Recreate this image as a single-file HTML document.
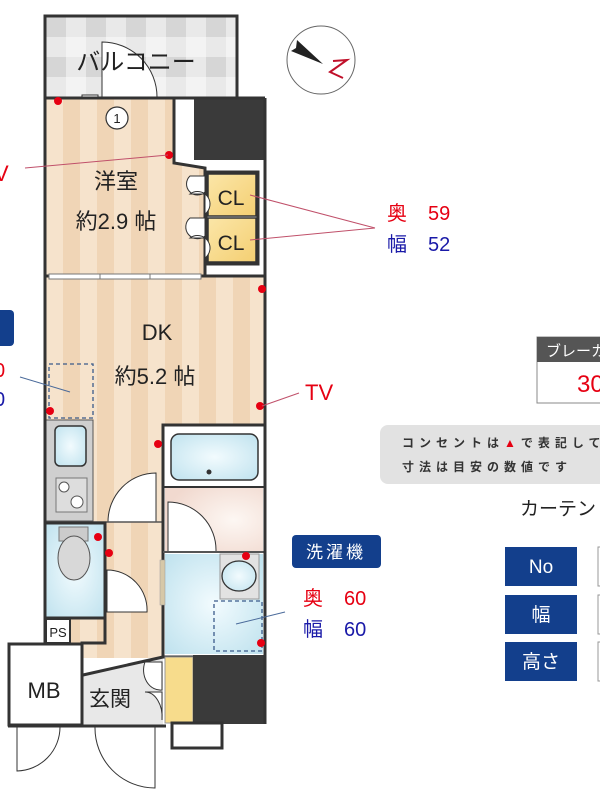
<!DOCTYPE html>
<html><head><meta charset="utf-8"><style>
html,body{margin:0;padding:0;background:#fff;width:600px;height:800px;overflow:hidden}
text{font-family:"Liberation Sans","Noto Sans CJK JP",sans-serif}
</style></head><body>
<svg width="600" height="800" viewBox="0 0 600 800" xmlns="http://www.w3.org/2000/svg">
<defs>
<pattern id="wood" x="46" y="0" width="34" height="10" patternUnits="userSpaceOnUse">
<rect width="34" height="10" fill="#f6e3cc"/><rect x="17" width="17" height="10" fill="#f0d5b6"/>
</pattern>
<pattern id="tile" x="46" y="17" width="40" height="40" patternUnits="userSpaceOnUse">
<rect width="40" height="40" fill="#e9e9e9"/><rect width="20" height="20" fill="#d6d6d6"/><rect x="20" y="20" width="20" height="20" fill="#f3f3f3"/>
</pattern>
<radialGradient id="blue" cx="0.5" cy="0.5" r="0.7"><stop offset="0" stop-color="#f2fbfe"/><stop offset="1" stop-color="#bfe2ee"/></radialGradient>
<radialGradient id="pink" cx="0.7" cy="0.5" r="0.7"><stop offset="0" stop-color="#fdf7f3"/><stop offset="1" stop-color="#f1d9cf"/></radialGradient>
<linearGradient id="cl" x1="0" y1="0" x2="1" y2="1"><stop offset="0" stop-color="#fbe6a8"/><stop offset="1" stop-color="#f4cf72"/></linearGradient>
</defs>

<!-- balcony -->
<rect x="45" y="16" width="192" height="82" fill="url(#tile)" stroke="#333" stroke-width="3"/>
<path d="M102,97 L102,42 A55,55 0 0 1 157,97" fill="#fff" stroke="#333" stroke-width="1"/>
<rect x="82" y="95" width="16" height="5" fill="#fff" stroke="#333" stroke-width="1"/>
<text x="136" y="70" font-size="24" text-anchor="middle" fill="#222">バルコニー</text>

<!-- main floor -->
<rect x="45" y="98" width="220" height="560" fill="url(#wood)"/>
<path d="M174,98 L265,98 L265,275 L205,275 L205,168 L174,163 Z" fill="#fff"/>
<rect x="194" y="98" width="71" height="62" fill="#3a3a3a"/>
<path d="M174,98 L174,163 L205,168 L205,275" fill="none" stroke="#333" stroke-width="3"/>
<rect x="206" y="172" width="52" height="92" fill="none" stroke="#333" stroke-width="3"/>
<rect x="208" y="174" width="48" height="42" fill="url(#cl)" stroke="#333" stroke-width="1.5"/>
<rect x="208" y="218" width="48" height="44" fill="url(#cl)" stroke="#333" stroke-width="1.5"/>
<text x="231" y="205" font-size="21" text-anchor="middle" fill="#222">CL</text>
<text x="231" y="250" font-size="21" text-anchor="middle" fill="#222">CL</text>
<g fill="#fff" stroke="#333" stroke-width="1">
<path d="M205,176 L190,176 A10,10 0 0 0 205,192 Z"/><path d="M205,194 L190,194 A10,10 0 0 1 205,214 Z"/>
<path d="M205,218 L190,218 A10,10 0 0 0 205,236 Z"/><path d="M205,238 L190,238 A10,10 0 0 1 205,258 Z"/>
</g>
<line x1="45" y1="276" x2="265" y2="276" stroke="#333" stroke-width="3"/>
<rect x="49" y="274" width="152" height="5" fill="#fff" stroke="#777" stroke-width="1"/>
<line x1="100" y1="274" x2="100" y2="279" stroke="#777"/><line x1="150" y1="274" x2="150" y2="279" stroke="#777"/>

<circle cx="117" cy="118" r="11" fill="#fff" stroke="#333" stroke-width="1.2"/>
<text x="117" y="123" font-size="13" text-anchor="middle" fill="#222">1</text>
<text x="116" y="189" font-size="22" text-anchor="middle" fill="#222">洋室</text>
<text x="116" y="229" font-size="22" text-anchor="middle" fill="#222">約2.9 帖</text>
<text x="157" y="340" font-size="22" text-anchor="middle" fill="#222">DK</text>
<text x="155" y="384" font-size="22" text-anchor="middle" fill="#222">約5.2 帖</text>
<rect x="49" y="364" width="44" height="54" fill="none" stroke="#3a5a8a" stroke-width="1.3" stroke-dasharray="4,3"/>

<!-- kitchen -->
<rect x="46" y="420" width="47" height="101" fill="#cfcfcf" stroke="#555" stroke-width="1"/>
<rect x="55" y="426" width="31" height="40" rx="5" fill="url(#blue)" stroke="#333" stroke-width="1.5"/>
<rect x="56" y="478" width="31" height="34" fill="#ddd" stroke="#777"/>
<circle cx="64" cy="487" r="5" fill="#fff" stroke="#555"/><circle cx="77" cy="502" r="6" fill="#fff" stroke="#555"/>
<path d="M108,522 A48,49 0 0 1 156,473 L156,522 Z" fill="#fff" stroke="#333" stroke-width="1"/>
<line x1="93" y1="522" x2="163" y2="522" stroke="#555" stroke-width="1.5"/>

<!-- bath -->
<rect x="163" y="425" width="102" height="232" fill="#fff" stroke="#333" stroke-width="3"/>
<rect x="171" y="434" width="87" height="46" rx="8" fill="url(#blue)" stroke="#333" stroke-width="1.5"/>
<circle cx="209" cy="472" r="2.5" fill="#333"/>
<rect x="165" y="488" width="98" height="64" fill="url(#pink)"/>
<line x1="163" y1="487" x2="265" y2="487" stroke="#333" stroke-width="2"/>
<path d="M168,551 L168,502 A48,48 0 0 1 216,551" fill="#fff" stroke="#333" stroke-width="1"/>
<line x1="163" y1="552" x2="265" y2="552" stroke="#555" stroke-width="2"/>
<rect x="165" y="554" width="98" height="100" fill="url(#blue)"/>
<rect x="220" y="554" width="39" height="45" fill="#e2e2e2" stroke="#999" stroke-width="1"/>
<ellipse cx="239" cy="576" rx="17" ry="15" fill="url(#blue)" stroke="#333" stroke-width="1.3"/>
<rect x="214" y="601" width="48" height="50" fill="none" stroke="#3a5a8a" stroke-width="1.3" stroke-dasharray="4,3"/>
<rect x="160" y="560" width="5" height="45" fill="#d6c8a8" stroke="#999" stroke-width="0.5"/>

<!-- toilet -->
<rect x="45" y="523" width="60" height="95" fill="url(#blue)" stroke="#333" stroke-width="3"/>
<rect x="59" y="527" width="29" height="14" fill="#ccc" stroke="#777"/>
<ellipse cx="74" cy="558" rx="16" ry="22" fill="#d8d8d8" stroke="#555"/>
<path d="M107,612 L107,570 A40,40 0 0 1 147,612 Z" fill="#fff" stroke="#333" stroke-width="1"/>

<!-- PS / entrance -->
<rect x="46" y="619" width="24" height="24" fill="#fff" stroke="#333" stroke-width="2"/>
<text x="58" y="637" font-size="13" text-anchor="middle" fill="#222">PS</text>
<path d="M83,675 L163,657 L163,725 L83,725 Z" fill="#e8e8e8"/>
<path d="M83,675 L163,657" stroke="#333" stroke-width="3"/>
<text x="110" y="706" font-size="21" text-anchor="middle" fill="#222">玄関</text>
<path d="M162,662 L145,662 A17,20 0 0 0 162,690 Z" fill="#fff" stroke="#333" stroke-width="1"/>
<path d="M162,692 L145,692 A17,25 0 0 1 162,720 Z" fill="#fff" stroke="#333" stroke-width="1"/>
<rect x="165" y="657" width="28" height="66" fill="#f7dc8c" stroke="#999" stroke-width="1"/>
<rect x="193" y="655" width="73" height="69" fill="#3a3a3a"/>
<rect x="172" y="723" width="50" height="25" fill="#fff" stroke="#333" stroke-width="3"/>

<!-- MB -->
<rect x="9" y="644" width="73" height="81" fill="#fff" stroke="#333" stroke-width="3"/>
<text x="44" y="698" font-size="22" text-anchor="middle" fill="#222">MB</text>
<path d="M17,727 L17,771 A44,44 0 0 0 60,727" fill="none" stroke="#333" stroke-width="1"/>
<path d="M155,727 L155,788 A60,60 0 0 1 95,727" fill="none" stroke="#333" stroke-width="1"/>
<line x1="8" y1="726" x2="166" y2="726" stroke="#333" stroke-width="3"/>

<path d="M45,98 L45,643 M82,726 L82,643 L105,643 L105,618 M265,98 L265,724 M45,98 L265,98" fill="none" stroke="#333" stroke-width="3"/>
<line x1="93" y1="420" x2="93" y2="521" stroke="#555"/>

<g fill="#e60012">
<circle cx="58" cy="101" r="4"/><circle cx="169" cy="155" r="4"/><circle cx="262" cy="289" r="4"/>
<circle cx="50" cy="411" r="4"/><circle cx="260" cy="406" r="4"/><circle cx="158" cy="444" r="4"/>
<circle cx="98" cy="537" r="4"/><circle cx="109" cy="553" r="4"/><circle cx="246" cy="556" r="4"/><circle cx="261" cy="643" r="4"/>
</g>

<!-- compass -->
<circle cx="321" cy="60" r="34" fill="#fff" stroke="#666" stroke-width="1"/>
<path d="M297,40 L323,64 L291,51 L296,48 Z" fill="#222"/>
<path d="M333,61 L347,60 L330,72 L343,78" fill="none" stroke="#c0102a" stroke-width="2"/>

<g stroke="#c0506a" stroke-width="1"><line x1="25" y1="168" x2="168" y2="155"/><line x1="250" y1="195" x2="375" y2="228"/><line x1="250" y1="240" x2="375" y2="228"/><line x1="262" y1="406" x2="299" y2="393"/></g>
<g stroke="#4a6a9a" stroke-width="1"><line x1="20" y1="377" x2="70" y2="392"/><line x1="236" y1="624" x2="285" y2="612"/></g>
<text x="-6" y="181" font-size="22" fill="#e60012">V</text>
<text x="387" y="220" font-size="20" fill="#e60012">奥</text><text x="428" y="220" font-size="20" fill="#e60012">59</text>
<text x="387" y="251" font-size="20" fill="#1a1aa8">幅</text><text x="428" y="251" font-size="20" fill="#1a1aa8">52</text>
<text x="305" y="400" font-size="22" fill="#e60012">TV</text>
<rect x="-10" y="310" width="24" height="36" rx="4" fill="#133f8c"/>
<text x="-6" y="377" font-size="20" fill="#e60012">0</text>
<text x="-6" y="406" font-size="20" fill="#1a1aa8">0</text>

<rect x="292" y="535" width="89" height="33" rx="4" fill="#133f8c"/>
<text x="336" y="558" font-size="17" text-anchor="middle" fill="#fff" letter-spacing="3">洗濯機</text>
<text x="303" y="605" font-size="20" fill="#e60012">奥</text><text x="344" y="605" font-size="20" fill="#e60012">60</text>
<text x="303" y="636" font-size="20" fill="#1a1aa8">幅</text><text x="344" y="636" font-size="20" fill="#1a1aa8">60</text>

<rect x="537" y="337" width="80" height="66" fill="#fff" stroke="#888" stroke-width="1"/>
<rect x="537" y="337" width="80" height="25" fill="#555"/>
<text x="546" y="356" font-size="15" fill="#fff">ブレーカ</text>
<text x="577" y="392" font-size="24" fill="#e60012">30</text>

<rect x="380" y="425" width="240" height="59" rx="8" fill="#e2e2e2"/>
<text x="402" y="447" font-size="12" font-weight="bold" fill="#333" letter-spacing="5">コンセントは<tspan fill="#e60012">▲</tspan>で表記してい</text>
<text x="402" y="471" font-size="12" font-weight="bold" fill="#333" letter-spacing="5">寸法は目安の数値です</text>
<text x="520" y="515" font-size="19" fill="#222">カーテン</text>

<g fill="#133f8c"><rect x="505" y="547" width="72" height="39"/><rect x="505" y="595" width="72" height="39"/><rect x="505" y="642" width="72" height="39"/></g>
<g stroke="#999" fill="#fff"><rect x="598" y="547" width="10" height="39"/><rect x="598" y="595" width="10" height="39"/><rect x="598" y="642" width="10" height="39"/></g>
<text x="541" y="573" font-size="19" text-anchor="middle" fill="#fff">No</text>
<text x="541" y="621" font-size="19" text-anchor="middle" fill="#fff">幅</text>
<text x="541" y="668" font-size="19" text-anchor="middle" fill="#fff">高さ</text>
</svg>
</body></html>
